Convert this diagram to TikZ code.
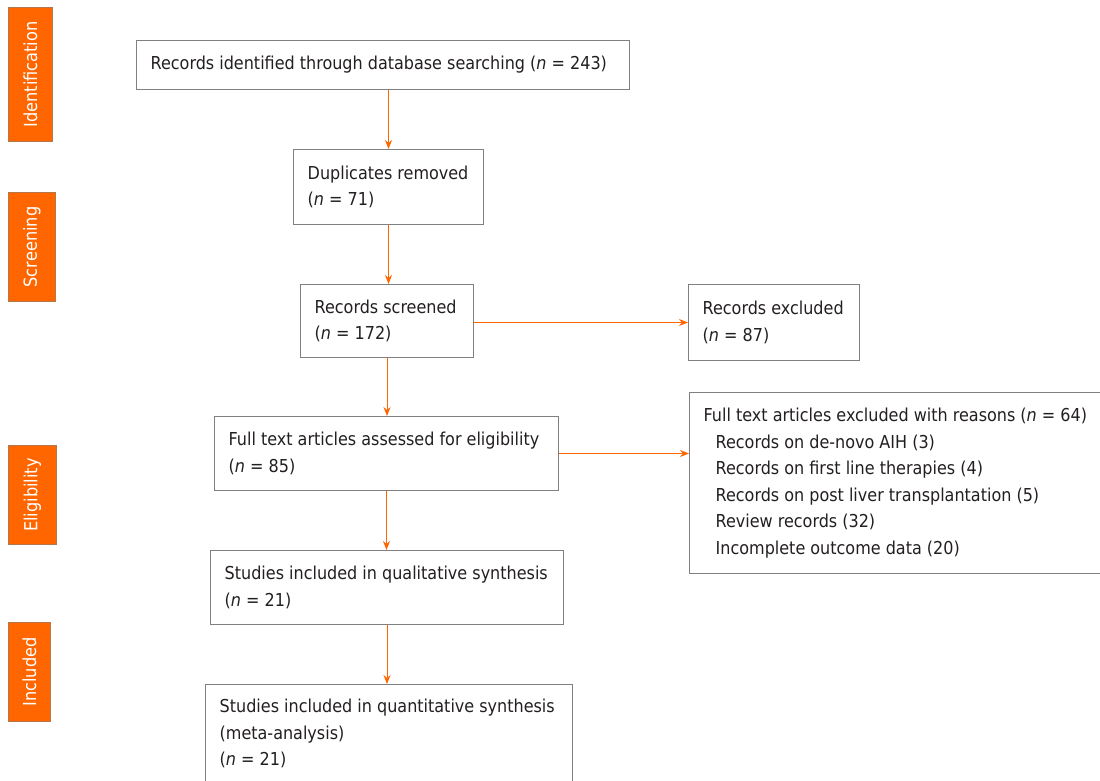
\documentclass[tikz,border=0pt]{standalone}
\usepackage{fontspec}
\setmainfont{DejaVu Sans Condensed}
\usetikzlibrary{arrows.meta,calc}
\definecolor{org}{HTML}{FF6600}
\definecolor{bord}{HTML}{808080}
\definecolor{txt}{HTML}{231F20}
\begin{document}
\begin{tikzpicture}[x=1pt,y=-1pt,
  box/.style={draw=bord,line width=1pt,anchor=north west,inner sep=0pt},
  boxtxt/.style={anchor=west,inner sep=0pt,align=left,text=txt,font=\fontsize{17.8}{26.5}\selectfont},
  stage/.style={fill=org,draw=bord!60!org,line width=1pt,anchor=north west,inner sep=0pt},
  stagetxt/.style={text=white,font=\fontsize{18}{20}\selectfont,inner sep=0pt,rotate=90},
  arr/.style={draw=org,line width=0.9pt,-{Stealth[length=9pt,width=7pt]}}]
\useasboundingbox (0,0) rectangle (1100,780);
% stage labels
\node[stage,minimum width=44,minimum height=134] (s1) at (8,7) {};
\node[stagetxt] (t1) at (s1) {Identification};
\node[stage,minimum width=47,minimum height=109] (s2) at (8,192) {};
\node[stagetxt] (t2) at (s2) {Screening};
\node[stage,minimum width=48,minimum height=99] (s3) at (8,445) {};
\node[stagetxt] (t3) at (s3) {Eligibility};
\node[stage,minimum width=42,minimum height=99] (s4) at (8,622) {};
\node[stagetxt] (t4) at (s4) {Included};
% boxes
\node[box,minimum width=493,minimum height=49] (b1) at (136,40) {};
\node[boxtxt] (x1) at ($(b1.west)+(14.5,0)$)
  {Records identified through database searching (\textit{n} = 243)};
\node[box,minimum width=190,minimum height=75] (b2) at (293,149) {};
\node[boxtxt] (x2) at ($(b2.west)+(14.5,0)$)
  {Duplicates removed\\(\textit{n} = 71)};
\node[box,minimum width=173,minimum height=73] (b3) at (300,284) {};
\node[boxtxt] (x3) at ($(b3.west)+(14.5,0)$)
  {Records screened\\(\textit{n} = 172)};
\node[box,minimum width=171,minimum height=76] (b4) at (688,284) {};
\node[boxtxt] (x4) at ($(b4.west)+(14.5,0)$)
  {Records excluded\\(\textit{n} = 87)};
\node[box,minimum width=344,minimum height=74] (b5) at (214,416) {};
\node[boxtxt] (x5) at ($(b5.west)+(14.5,0)$)
  {Full text articles assessed for eligibility\\(\textit{n} = 85)};
\node[box,minimum width=440,minimum height=181] (b6) at (689,392) {};
\node[boxtxt] (x6) at ($(b6.west)+(14.5,0)$)
  {Full text articles excluded with reasons (\textit{n} = 64)\\
   \hspace*{12pt}Records on de-novo AIH (3)\\
   \hspace*{12pt}Records on first line therapies (4)\\
   \hspace*{12pt}Records on post liver transplantation (5)\\
   \hspace*{12pt}Review records (32)\\
   \hspace*{12pt}Incomplete outcome data (20)};
\node[box,minimum width=353,minimum height=74] (b7) at (210,550) {};
\node[boxtxt] (x7) at ($(b7.west)+(14.5,0)$)
  {Studies included in qualitative synthesis\\(\textit{n} = 21)};
\node[box,minimum width=367,minimum height=98] (b8) at (205,684) {};
\node[boxtxt] (x8) at ($(b8.west)+(14.5,0)$)
  {Studies included in quantitative synthesis\\(meta-analysis)\\(\textit{n} = 21)};
% connectors
\draw[arr] (b2.north |- b1.south) -- (b2.north);
\draw[arr] (b2.south) -- (b2.south |- b3.north);
\draw[arr] (b3.south) -- (b3.south |- b5.north);
\draw[arr] (b5.south) -- (b5.south |- b7.north);
\draw[arr] (b7.south) -- (b7.south |- b8.north);
\draw[arr] (b3.east |- b4.west) -- (b4.west);
\draw[arr] (b5.east) -- (b5.east -| b6.west);
\end{tikzpicture}
\end{document}
